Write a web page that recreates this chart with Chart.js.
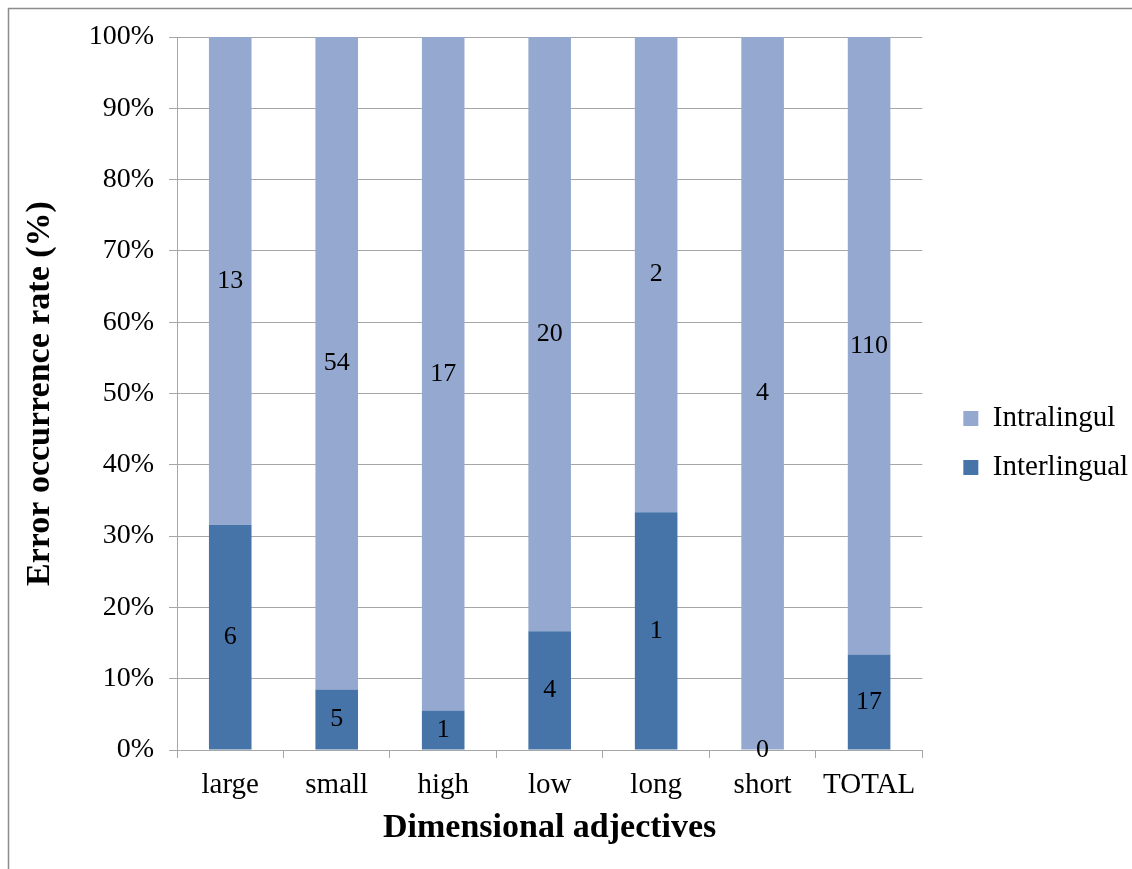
<!DOCTYPE html>
<html>
<head>
<meta charset="utf-8">
<script src="https://cdn.jsdelivr.net/npm/chart.js@4.4.1/dist/chart.umd.min.js"></script>
<style>
html,body{margin:0;padding:0;background:#fff;}
#wrap{width:1132px;height:869px;position:relative;}
</style>
</head>
<body>
<div id="wrap"><canvas id="c" width="1132" height="869"></canvas></div>
<script>
const categories = ['large', 'small', 'high', 'low', 'long', 'short', 'TOTAL'];
const interlingual = [6, 5, 1, 4, 1, 0, 17];
const intralingul = [13, 54, 17, 20, 2, 4, 110];
const seriesNames = ['Interlingual', 'Intralingul'];
const yTickStep = 10;

const totals = categories.map((_, i) => interlingual[i] + intralingul[i]);
const interPct = interlingual.map((v, i) => v / totals[i] * 100);
const intraPct = intralingul.map((v, i) => v / totals[i] * 100);
const counts = [interlingual, intralingul];

const FONT = "'Liberation Serif', 'Times New Roman', serif";
const GRID = '#a6a6a6';

const frame = {
  id: 'frame',
  beforeDraw(chart) {
    const ctx = chart.ctx;
    ctx.save();
    ctx.fillStyle = '#fff';
    ctx.fillRect(0, 0, chart.width, chart.height);
    ctx.strokeStyle = '#8c8c8c';
    ctx.lineWidth = 1.5;
    ctx.beginPath();
    ctx.moveTo(8.5, chart.height);
    ctx.lineTo(8.5, 8.5);
    ctx.lineTo(chart.width, 8.5);
    ctx.stroke();
    ctx.restore();
  }
};

const valueLabels = {
  id: 'valueLabels',
  afterDatasetsDraw(chart) {
    const ctx = chart.ctx;
    ctx.save();
    ctx.font = '26px ' + FONT;
    ctx.fillStyle = '#000';
    ctx.textAlign = 'center';
    ctx.textBaseline = 'middle';
    chart.data.datasets.forEach((ds, di) => {
      const meta = chart.getDatasetMeta(di);
      meta.data.forEach((el, i) => {
        const y = (el.y + el.base) / 2;
        ctx.fillText(String(counts[di][i]), el.x, y);
      });
    });
    ctx.restore();
  }
};

new Chart(document.getElementById('c'), {
  type: 'bar',
  data: {
    labels: categories,
    datasets: [
      { label: seriesNames[0], data: interPct, backgroundColor: '#4673a8', borderWidth: 0, barPercentage: 0.4, categoryPercentage: 1.0 },
      { label: seriesNames[1], data: intraPct, backgroundColor: '#95a9d0', borderWidth: 0, barPercentage: 0.4, categoryPercentage: 1.0 }
    ]
  },
  options: {
    responsive: false,
    animation: false,
    devicePixelRatio: 1,
    layout: { padding: { top: 37, left: 0, right: 0, bottom: 20 } },
    plugins: {
      legend: {
        position: 'right',
        reverse: true,
        labels: {
          boxWidth: 15, boxHeight: 15, padding: 20,
          color: '#000',
          font: { family: FONT, size: 29 }
        }
      },
      tooltip: { enabled: false }
    },
    scales: {
      x: {
        stacked: true,
        grid: { offset: true, drawOnChartArea: false, drawTicks: true, tickLength: 8, color: GRID },
        border: { display: true, color: GRID },
        ticks: { color: '#000', font: { family: FONT, size: 29 }, padding: 10, maxRotation: 0 },
        title: { display: true, text: 'Dimensional adjectives', color: '#000', font: { family: FONT, size: 34, weight: 'bold' }, padding: { top: 0, bottom: 0 } },
        afterFit(scale) { scale.height = 99; }
      },
      y: {
        stacked: true,
        min: 0, max: 100,
        ticks: { stepSize: yTickStep, color: '#000', font: { family: FONT, size: 28 }, padding: 15, callback: v => v + '%' },
        grid: { color: GRID, tickLength: 8, drawTicks: true },
        border: { display: true, color: GRID },
        title: { display: true, text: 'Error occurrence rate (%)', color: '#000', font: { family: FONT, size: 34, weight: 'bold' }, padding: { top: 20, bottom: 0 } },
        afterFit(scale) { scale.width = 177; }
      },
      y2: {
        position: 'right',
        display: true,
        min: 0, max: 100,
        grid: { display: false, drawOnChartArea: false },
        border: { display: false },
        ticks: { display: false },
        afterFit(scale) { scale.width = 21; }
      }
    }
  },
  plugins: [frame, valueLabels]
});
</script>
</body>
</html>
